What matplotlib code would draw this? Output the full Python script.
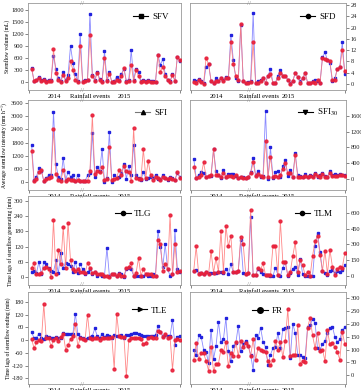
import matplotlib
matplotlib.use('Agg')
import matplotlib.pyplot as plt
from matplotlib.lines import Line2D
import numpy as np

plt.rcParams['font.family'] = ['Liberation Serif', 'DejaVu Serif']
plt.rcParams['mathtext.fontset'] = 'stix'

# ---------------- data ----------------
sfv_b = [350, 30, 60, 130, 50, 80, 20, 40, 50, 650, 330, 100, 30, 250, 40, 180, 900, 480, 200, 20,
         1200, 20, 40, 60, 1700, 180, 60, 260, 80, 20, 770, 60, 250, 10, 20, 130, 40, 200, 330, 20,
         60, 800, 60, 330, 250, 20, 40, 20, 40, 20, 30, 10, 680, 430, 570, 200, 60, 20, 200, 30, 630, 530]
sfv_r = [330, 20, 40, 100, 20, 60, 10, 30, 30, 820, 220, 60, 10, 180, 20, 100, 520, 300, 60, 10,
         900, 10, 30, 40, 1180, 150, 30, 220, 50, 10, 600, 30, 200, 10, 10, 60, 20, 150, 350, 10,
         30, 430, 20, 300, 150, 10, 30, 10, 30, 10, 10, 5, 680, 250, 380, 150, 40, 10, 180, 20, 630, 560]

sfd_b = [1.5, 1.0, 1.8, 1.2, 0.3, 6.2, 7.0, 1.0, 0.5, 2.0, 1.2, 2.0, 1.3, 2.5, 2.0, 17.3, 8.5, 2.0, 1.0, 21.0,
         1.0, 0.5, 0.8, 1.0, 25.0, 0.5, 1.0, 1.5, 2.0, 0.5, 3.0, 5.2, 0.5, 0.5, 3.0, 5.0, 3.0, 3.0, 1.5, 0.5,
         1.0, 4.0, 2.5, 1.0, 2.0, 4.0, 0.5, 0.5, 1.0, 1.5, 1.0, 0.3, 9.5, 11.2, 8.5, 7.3, 1.0, 2.0, 5.5, 6.0, 14.8, 3.5]
sfd_r = [0.8, 0.5, 1.5, 0.8, 0.2, 9.3, 7.0, 1.2, 0.5, 1.0, 1.0, 2.0, 1.0, 2.0, 2.0, 15.0, 7.0, 3.0, 1.5, 21.2,
         1.0, 0.5, 0.5, 0.8, 14.8, 0.3, 0.5, 1.0, 2.0, 0.5, 3.0, 3.5, 0.5, 0.5, 2.0, 4.0, 3.0, 3.0, 1.5, 0.2,
         1.0, 4.0, 2.5, 0.5, 2.0, 4.0, 0.3, 0.5, 0.8, 0.5, 1.5, 0.3, 9.2, 9.0, 8.5, 8.0, 1.5, 1.5, 5.5, 6.0, 12.0, 4.5]

sfi_b = [1700, 100, 250, 650, 500, 50, 200, 300, 300, 3200, 800, 250, 150, 1100, 100, 450, 250, 300, 50, 300,
         50, 60, 50, 300, 400, 2250, 250, 700, 500, 1500, 0, 200, 2300, 0, 300, 200, 250, 400, 800, 150,
         750, 300, 1700, 300, 200, 100, 450, 150, 200, 250, 200, 300, 150, 150, 300, 200, 100, 250, 200, 100, 400, 250]
sfi_r = [1400, 50, 150, 450, 550, 50, 150, 200, 250, 2400, 350, 100, 50, 550, 50, 150, 100, 100, 50, 100,
         50, 40, 50, 50, 500, 3050, 350, 500, 450, 700, 100, 150, 1600, 100, 150, 200, 550, 300, 750, 500,
         450, 50, 2450, 200, 150, 150, 1500, 200, 950, 300, 100, 250, 200, 100, 250, 200, 150, 200, 150, 100, 450, 200]

sfi30_b = [520, 30, 100, 170, 150, 50, 80, 80, 750, 200, 100, 30, 230, 50, 120, 120, 120, 80, 30, 60,
           50, 20, 60, 170, 540, 100, 200, 50, 80, 1720, 0, 800, 30, 180, 200, 50, 320, 470, 80, 230,
           50, 650, 100, 80, 50, 130, 60, 100, 80, 140, 50, 100, 150, 80, 60, 200, 100, 120, 100, 130, 110, 100]
sfi30_r = [300, 20, 50, 100, 420, 60, 80, 90, 750, 100, 100, 50, 150, 60, 80, 80, 50, 100, 30, 40,
           30, 20, 40, 150, 420, 80, 120, 80, 60, 960, 50, 560, 50, 80, 50, 100, 250, 400, 150, 150,
           50, 620, 50, 40, 40, 80, 60, 80, 50, 130, 80, 50, 130, 50, 40, 150, 80, 80, 80, 100, 90, 80]

tlg_b = [18, 25, 15, 60, 10, 60, 50, 35, 25, 20, 65, 15, 95, 35, 55, 50, 45, 20, 60, 15,
         50, 30, 10, 20, 30, 10, 20, 5, 10, 5, 5, 115, 5, 10, 10, 5, 15, 10, 0, 30,
         35, 30, 5, 5, 5, 5, 5, 10, 5, 5, 10, 5, 180, 120, 40, 130, 30, 5, 10, 185, 30, 20]
tlg_r = [35, 55, 10, 10, 15, 35, 40, 30, 0, 225, 10, 105, 50, 198, 35, 215, 65, 30, 25, 30,
         20, 20, 15, 55, 35, 15, 20, 10, 10, 10, 5, 5, 0, 10, 10, 5, 10, 5, 5, 35,
         40, 55, 5, 15, 75, 5, 30, 10, 10, 10, 5, 5, 145, 130, 25, 50, 30, 245, 10, 130, 20, 25]

tlm_b = [50, 55, 30, 25, 20, 40, 25, 25, 30, 30, 40, 40, 30, 70, 20, 110, 40, 40, 45, 340,
         30, 20, 30, 560, 5, 5, 70, 40, 20, 10, 5, 0, 0, 80, 10, 0, 80, 130, 0, 30,
         70, 90, 5, 160, 20, 0, 0, 0, 0, 280, 410, 230, 50, 30, 10, 50, 60, 30, 50, 40, 60, 100]
tlm_r = [50, 280, 20, 30, 20, 40, 20, 235, 30, 170, 40, 430, 40, 475, 280, 380, 40, 40, 50, 370,
         300, 20, 30, 630, 5, 10, 80, 60, 120, 10, 5, 5, 280, 285, 10, 520, 130, 130, 10, 40,
         190, 320, 40, 150, 100, 10, 40, 0, 190, 330, 380, 200, 50, 240, 20, 250, 90, 10, 70, 90, 80, 215]

tle_b = [38, 8, 12, 30, 10, 5, 20, 15, 10, 10, 15, 10, 10, 35, 30, 30, 30, 30, 125, 30,
         15, 10, 5, 10, 15, 20, 55, 20, 10, 30, 15, 25, 20, 10, 25, 20, 20, 25, 10, 25,
         25, 30, 35, 35, 30, 25, 20, 20, 20, 20, 20, 25, 65, 40, 20, 25, 20, 20, 95, -25, 15, 20]
tle_r = [3, -38, -10, 0, -5, 170, 10, 10, -30, 0, 10, -5, 15, 30, -45, -25, 5, 20, 75, -30,
         10, 5, 0, 120, 10, 5, 10, 10, 0, 10, 10, 10, 10, 15, -135, 125, 20, 15, 15, -170,
         0, 10, 10, 10, 10, 5, -20, -15, 10, 15, 10, 10, 45, 40, 15, 30, 10, 15, -140, 0, 5, 0]

fr_b = [97, 78, 157, 150, 100, 90, 48, 178, 63, 113, 208, 130, 140, 223, 95, 55, 115, 125, 193, 95,
        120, 135, 115, 80, 20, 155, 145, 185, 130, 110, 40, 80, 105, 110, 165, 105, 180, 183, 190, 65,
        200, 165, 80, 78, 70, 68, 190, 195, 220, 205, 105, 100, 120, 135, 165, 185, 190, 150, 130, 140, 175, 188]
fr_r = [58, 125, 62, 85, 85, 55, 17, 110, 15, 45, 45, 100, 90, 130, 35, 85, 75, 130, 75, 135,
        110, 125, 115, 75, 140, 60, 105, 100, 95, 90, 55, 38, 60, 135, 100, 130, 70, 135, 260, 75,
        78, 78, 195, 45, 55, 50, 185, 225, 155, 105, 165, 95, 100, 55, 175, 120, 125, 110, 90, 60, 170, 122]

panels = [
    # name, blue, red, ylim, ticks, ylabel, col, row, marker, legend anchor
    ('SFV', sfv_b, sfv_r, (-200, 1975), np.arange(0, 1801, 300), 'Stemflow volume (mL)', 0, 0, 's', (0.686, 0.84)),
    ('SFD', sfd_b, sfd_r, (-2.1, 28.7), np.arange(0, 29, 4), None, 1, 0, 'o', (0.705, 0.84)),
    ('SFI', sfi_b, sfi_r, (-365, 3740), np.arange(0, 3601, 600), 'Average stemflow intensity (mm h$^{-1}$)', 0, 1, '^', (0.70, 0.86)),
    ('SFI$_{30}$', sfi30_b, sfi30_r, (-280, 2006), np.arange(0, 1601, 400), None, 1, 1, 'v', (0.69, 0.86)),
    ('TLG', tlg_b, tlg_r, (-32, 320), np.arange(0, 301, 60), 'Time lags of stemflow generating (min)', 0, 2, 'o', (0.57, 0.80)),
    ('TLM', tlm_b, tlm_r, (-85, 758), np.arange(0, 601, 150), None, 1, 2, 'o', (0.67, 0.80)),
    ('TLE', tle_b, tle_r, (-207, 227), np.arange(-180, 181, 60), 'Time lags of stemflow ending (min)', 0, 3, '>', (0.68, 0.80)),
    ('FR', fr_b, fr_r, (-35, 325), np.arange(0, 301, 50), None, 1, 3, 'o', (0.40, 0.79)),
]

W, H = 361.0, 390.0
cols = [(28, 181), (190, 346)]
rows = [(3, 90), (100, 190), (196, 285), (292, 384)]
breaks = [0.353, 0.378]
lab_pos = [(0.17, 0.405, 0.63), (0.17, 0.44, 0.63)]

fig = plt.figure(figsize=(W / 100, H / 100), dpi=100)

BL, BM = '#8a8aff', '#2222dd'
RL, RM = '#ff7a7a', '#e8203a'
tick_fs = 4.6

for name, b, r, ylim, ticks, ylabel, c, rr, mk, anc in panels:
    x0, x1 = cols[c]
    yt, yb = rows[rr]
    ax = fig.add_axes([x0 / W, 1 - yb / H, (x1 - x0) / W, (yb - yt) / H])
    x = np.arange(len(b))
    ax.plot(x, b, color=BL, lw=0.6, marker='s', ms=1.9, mfc=BM, mec=BM, zorder=2)
    ax.plot(x, r, color=RL, lw=0.6, marker='o', ms=2.1, mfc=RM, mec=RM, zorder=3, alpha=0.9)
    ax.set_xlim(-1.5, len(b) - 0.5)
    ax.set_ylim(*ylim)
    ax.set_yticks(ticks)
    ax.set_yticklabels([str(int(t)) for t in ticks], fontsize=tick_fs)
    ax.set_xticks([-1, len(b) - 1])
    ax.set_xticklabels([])
    ax.tick_params(axis='both', direction='out', length=2, width=0.5, pad=1.2, colors='#555555', labelcolor='#222222')
    if c == 1:
        ax.yaxis.tick_right()
    for s in ax.spines.values():
        s.set_color('#999999')
        s.set_linewidth(0.6)
    if ylabel:
        ax.set_ylabel(ylabel, fontsize=4.1, labelpad=0.8)
    # break marks
    bx = breaks[c]
    for yy in (1.0, 0.0):
        ax.text(bx, yy, '//', transform=ax.transAxes, fontsize=5, color='#888888',
                ha='center', va='center', clip_on=False)
    # bottom labels
    p1, p2, p3 = lab_pos[c]
    ly = -6.5 / (yb - yt)
    for px, t in ((p1, '2014'), (p2, 'Rainfall events'), (p3, '2015')):
        ax.text(px, ly, t, transform=ax.transAxes, fontsize=4.8, ha='center', va='center')
    # legend
    lc = '#777777' if name == 'SFI' else 'black'
    h = Line2D([], [], color=lc, lw=0.8, marker=mk, ms=3 if name != 'FR' else 4, mfc='black', mec='black')
    ax.legend([h], [name], loc='center left', bbox_to_anchor=anc, frameon=False,
              fontsize=6.5, handlelength=1.7, handletextpad=0.4, borderpad=0, borderaxespad=0)

fig.savefig('out.png', dpi=100)
